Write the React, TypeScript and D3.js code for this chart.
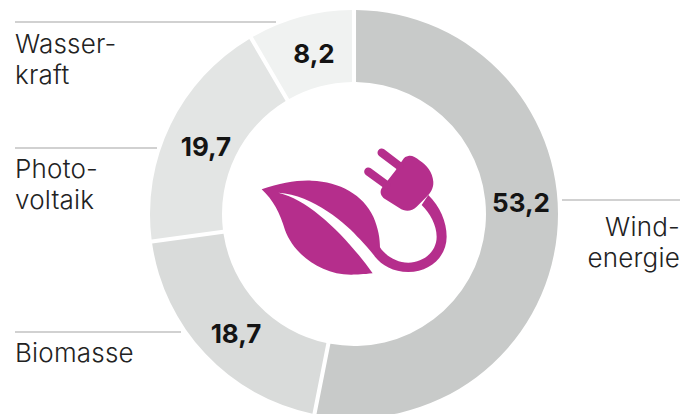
import * as d3 from "d3";

// printed figures
const categories = ["Windenergie", "Biomasse", "Photovoltaik", "Wasserkraft"];
const printedValues = [53.2, 18.7, 19.7, 8.2];
// the drawn wedges: in the picture the Biomasse wedge is the wider one,
// so the angles are read off the picture and not off the printed labels
const wedgeValues = [53.0, 19.7, 18.7, 8.4];
const labelLines = [["Wind-", "energie"], ["Biomasse"], ["Photo-", "voltaik"], ["Wasser-", "kraft"]];

const WIDTH = 697;
const HEIGHT = 414;
const CX = 354;
const CY = 214;
const OUTER = 204;
const INNER = 132;
const FONT = "Inter, 'Open Sans', sans-serif";

const colors = ["#c8cac9", "#d9dbda", "#e3e5e4", "#f0f2f1"];

// layout, per category
const valuePos = [[521, 212], [236, 343], [206, 156], [314, 63]];
const leaders = [[562, 680, 200], [15, 181, 332], [15, 157, 148], [15, 276, 22]];
const textPos = [
  { x: 680, y: 236, anchor: "end" },
  { x: 15, y: 362, anchor: "start" },
  { x: 15, y: 178, anchor: "start" },
  { x: 15, y: 53, anchor: "start" },
];

const pie = d3.pie<number>().sort(null).value((d) => d);
const arc = d3
  .arc<d3.PieArcDatum<number>>()
  .innerRadius(INNER)
  .outerRadius(OUTER)
  .padAngle(0.024)
  .padRadius(170);
const fmt = (v: number) => v.toFixed(1).replace(".", ",");

// plug + leaf icon, traced at 3x
function Icon() {
  return (
    <g transform="translate(240,130) scale(0.3333)" fill="#b52e8c">
      <path d="M65,178 C120,160 170,150 215,152 C300,155 370,195 400,260 C415,295 420,325 420,352 C432,372 465,398 505,398 C550,398 590,365 590,320 C590,285 570,250 545,225 L565,195 C600,230 620,275 620,320 C620,380 570,426 505,426 C460,426 425,405 405,380 C390,360 375,345 360,328 C320,282 220,195 115,188 C210,210 320,320 398,430 C370,433 350,434 335,434 C240,435 160,370 135,300 C120,250 100,210 65,178 Z" />
      <path d="M505,78 C515,76 525,80 540,92 C560,106 578,125 580,155 C581,175 572,188 560,200 L530,230 C515,245 495,246 478,234 L435,207 C422,198 418,185 426,173 L466,122 L488,90 C493,82 498,79 505,78 Z" />
      <line x1={425} y1={68} x2={478} y2={108} stroke="#b52e8c" strokeWidth={25} strokeLinecap="round" />
      <line x1={385} y1={125} x2={440} y2={165} stroke="#b52e8c" strokeWidth={25} strokeLinecap="round" />
    </g>
  );
}

export default function App() {
  const slices = pie(wedgeValues);

  return (
    <svg
      width={WIDTH}
      height={HEIGHT}
      viewBox={`0 0 ${WIDTH} ${HEIGHT}`}
      style={{ position: "absolute", left: 0, top: 0, background: "#fff" }}
      fontFamily={FONT}
    >
      <g transform={`translate(${CX},${CY})`}>
        {slices.map((s, i) => (
          <path key={categories[i]} d={arc(s) ?? ""} fill={colors[i]} />
        ))}
      </g>

      <Icon />

      {leaders.map(([x1, x2, y], i) => (
        <line key={categories[i]} x1={x1} x2={x2} y1={y} y2={y} stroke="#a3a3a3" strokeWidth={1} />
      ))}

      {printedValues.map((v, i) => (
        <text
          key={categories[i]}
          x={valuePos[i][0]}
          y={valuePos[i][1]}
          textAnchor="middle"
          fontSize={26}
          fontWeight={700}
          fill="#141414"
        >
          {fmt(v)}
        </text>
      ))}

      {labelLines.map((lines, i) => (
        <text
          key={categories[i]}
          textAnchor={textPos[i].anchor}
          fontSize={26}
          fontWeight={300}
          fill="#222"
          letterSpacing={0.2}
        >
          {lines.map((line, j) => (
            <tspan key={line} x={textPos[i].x} y={textPos[i].y + j * 31}>
              {line}
            </tspan>
          ))}
        </text>
      ))}
    </svg>
  );
}
